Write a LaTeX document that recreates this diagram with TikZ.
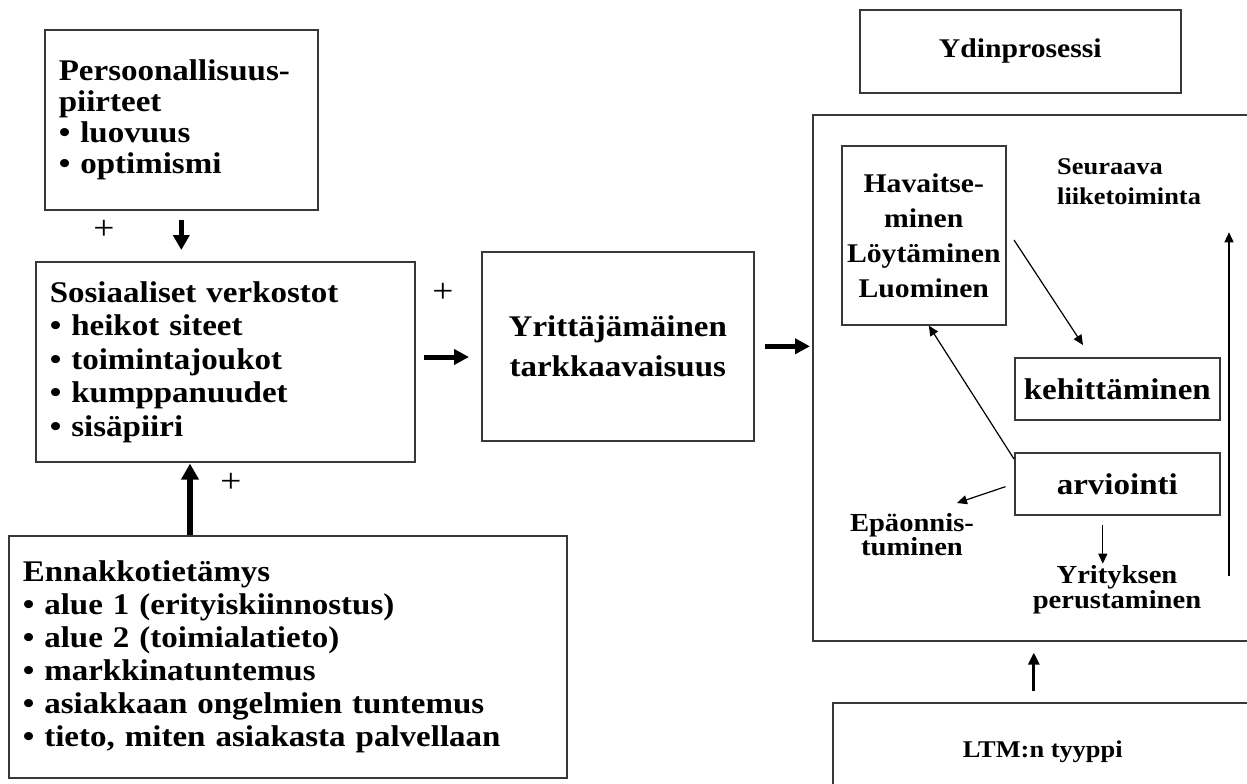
\documentclass[tikz,border=0pt]{standalone}
\usepackage{fontspec}
\setmainfont{Liberation Serif}[FakeStretch=1.1]
\usetikzlibrary{arrows.meta}

\tikzset{
  frame/.style={draw=black!78, line width=1.6pt, rectangle, inner sep=0pt, anchor=north west},
  listbox/.style={frame, inner xsep=14pt, align=left},
  bigtxt/.style={font=\bfseries\fontsize{30}{33}\selectfont},
  lbl/.style={inner sep=0pt, font=\bfseries\fontsize{26}{24}\selectfont},
  plus/.style={inner sep=0pt, font=\mdseries\fontsize{34}{34}\selectfont},
  fatA/.style={line width=4.5pt, -{Triangle[length=15pt,width=16pt]}},
  fatB/.style={line width=5.5pt, -{Triangle[length=16pt,width=17pt]}},
  fatC/.style={line width=5pt, -{Triangle[length=15pt,width=15pt]}},
  midA/.style={line width=3pt, -{Triangle[length=12pt,width=11pt]}},
  thinA/.style={line width=1.2pt, -{Triangle[length=10pt,width=9pt]}},
}

\begin{document}
\begin{tikzpicture}[x=1pt,y=-1pt]
\useasboundingbox (0,0) rectangle (1247,784);
\fill[white] (0,0) rectangle (1247,784);
\clip (0,0) rectangle (1247,784);

% left column
\node[listbox, minimum width=273pt, minimum height=180pt, text width=245pt,
      font=\bfseries\fontsize{30}{31}\selectfont] (pers) at (44,29)
  {Persoonallisuus-\\piirteet\\• luovuus\\• optimismi};
\node[listbox, minimum width=379pt, minimum height=200pt, text width=351pt,
      font=\bfseries\fontsize{30}{33.5}\selectfont] (sos) at (35,261)
  {Sosiaaliset verkostot\\• heikot siteet\\• toimintajoukot\\• kumppanuudet\\• sisäpiiri};
\node[listbox, minimum width=558pt, minimum height=242pt, text width=530pt,
      font=\bfseries\fontsize{30}{33}\selectfont] (enn) at (8,535)
  {Ennakkotietämys\\• alue 1 (erityiskiinnostus)\\• alue 2 (toimialatieto)\\• markkinatuntemus\\• asiakkaan ongelmien tuntemus\\• tieto, miten asiakasta palvellaan};

% middle
\node[frame, minimum width=272pt, minimum height=189pt, align=center,
      font=\bfseries\fontsize{30}{40}\selectfont] (yrit) at (481,251)
  {Yrittäjämäinen\\tarkkaavaisuus};

% right part
\node[frame, minimum width=321pt, minimum height=83pt,
      font=\bfseries\fontsize{27}{30}\selectfont] (ydin) at (859,9) {Ydinprosessi};
\node[frame, minimum width=450pt, minimum height=526pt] (big) at (812,114) {};
\node[frame, minimum width=164pt, minimum height=179pt, align=center,
      font=\bfseries\fontsize{27}{35}\selectfont] (hav) at (841,145)
  {Havaitse-\\minen\\Löytäminen\\Luominen};
\node[frame, minimum width=205pt, minimum height=62pt, bigtxt] (keh) at (1014,357) {kehittäminen};
\node[frame, minimum width=205pt, minimum height=62pt, bigtxt] (arv) at (1014,452) {arviointi};
\node[frame, minimum width=420pt, minimum height=98pt,
      font=\bfseries\fontsize{24}{28}\selectfont] (ltm) at (832,702) {LTM:n tyyppi};

\node[inner sep=0pt, anchor=west, align=left,
      font=\bfseries\fontsize{24}{30}\selectfont] (seu) at (1057,182) {Seuraava\\liiketoiminta};
\node[lbl, align=center] (epa) at (912,535) {Epäonnis-\\tuminen};
\node[lbl, align=center, font=\bfseries\fontsize{26}{22}\selectfont] (yri) at (1117,590) {Yrityksen\\perustaminen};

% plus signs
\node[plus] (p1) at (104,230) {+};
\node[plus] (p2) at (443,293) {+};
\node[plus] (p3) at (231,483) {+};

% helper coordinates
\coordinate (colE) at (190,0);
\coordinate (rowS) at (0,357);
\coordinate (hk1) at (1014,240);
\coordinate (hk2) at (1083,345);
\coordinate (ep) at (957,503);
\coordinate (sv) at (1229,576);

% connectors
\draw[fatA, shorten <=9pt, shorten >=11pt] (pers.south) -- (pers.south |- sos.north);
\draw[fatB, shorten >=1pt] (colE |- enn.north) -- (colE |- sos.south);
\draw[fatC, shorten <=8pt, shorten >=12pt] (sos.east |- rowS) -- (yrit.west |- rowS);
\draw[fatC, shorten <=10pt, shorten >=2pt] (yrit.east) -- (yrit.east -| big.west);
\draw[midA, shorten <=11pt, shorten >=11pt] ([xshift=-9pt]ltm.north) -- ([xshift=-9pt]ltm.north |- big.south);

\draw[thinA] (hk1) -- (hk2);
\draw[thinA] ([yshift=-7pt]arv.north west) -- ([xshift=5pt]hav.south);
\draw[thinA, shorten <=9pt] (arv.west) -- (ep);
\draw[thinA, shorten <=9pt, shorten >=2pt] ([xshift=-14.5pt]arv.south) -- ([xshift=-14.5pt]arv.south |- yri.north);
\draw[thinA, shorten >=27pt] (sv) -- (sv |- seu.south);
\end{tikzpicture}
\end{document}
